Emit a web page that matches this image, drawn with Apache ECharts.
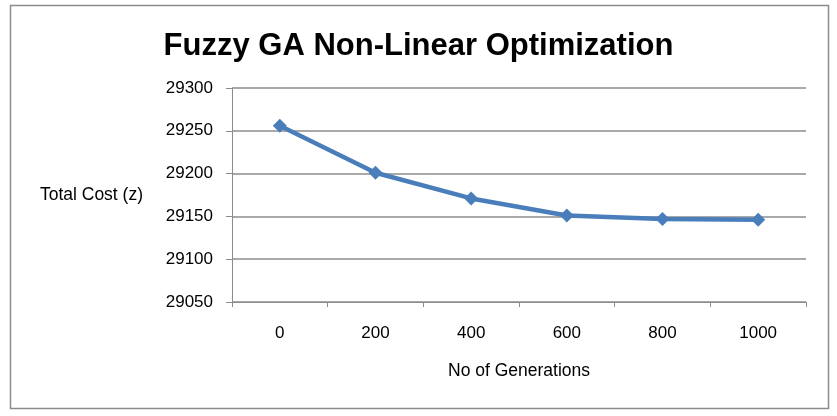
<!DOCTYPE html>
<html><head><meta charset="utf-8">
<script src="https://cdn.jsdelivr.net/npm/echarts@6/dist/echarts.min.js"></script>
<style>html,body{margin:0;padding:0;background:#fff}#c{width:837px;height:416px}</style>
</head><body><div id="c"></div>
<script>
const titleText = 'Fuzzy GA Non-Linear Optimization';
const generations = ['0', '200', '400', '600', '800', '1000'];
const totalCost = [29256, 29201, 29171, 29151, 29147, 29146];
const yMin = 29050, yMax = 29300, yStep = 50;
const xName = 'No of Generations';
const yName = 'Total Cost (z)';

const chart = echarts.init(document.getElementById('c'));
const fontFam = '"Liberation Sans", sans-serif';
chart.setOption({
  animation: false,
  title: {text: titleText, left: 'center', top: 26,
    textStyle: {fontFamily: fontFam, fontSize: 31, fontWeight: 'bold', color: '#000'}},
  graphic: [{type: 'rect', shape: {x: 10.5, y: 5.5, width: 818, height: 403},
    style: {fill: 'none', stroke: '#8c8c8c', lineWidth: 1.5}, z: -1}],
  grid: {left: 232, right: 31, top: 88, bottom: 114},
  xAxis: {type: 'category', data: generations, boundaryGap: true,
    name: xName, nameLocation: 'middle', nameGap: 60,
    nameTextStyle: {fontFamily: fontFam, fontSize: 17.5, color: '#000'},
    axisLine: {lineStyle: {color: '#8c8c8c', width: 1}},
    axisTick: {show: true, length: 5, lineStyle: {color: '#8c8c8c'}},
    axisLabel: {fontFamily: fontFam, fontSize: 17, color: '#000', margin: 23}},
  yAxis: {type: 'value', min: yMin, max: yMax, interval: yStep,
    name: yName, nameLocation: 'middle', nameRotate: 0, nameGap: 89,
    nameTextStyle: {fontFamily: fontFam, fontSize: 17.5, color: '#000'},
    axisLine: {show: true, lineStyle: {color: '#8c8c8c', width: 1}},
    axisTick: {show: true, length: 6, lineStyle: {color: '#8c8c8c'}},
    axisLabel: {fontFamily: fontFam, fontSize: 17, color: '#000', margin: 19,
      formatter: v => String(v)},
    splitLine: {lineStyle: {color: '#8c8c8c', width: 1.5}}},
  series: [{type: 'line', data: totalCost, symbol: 'diamond', symbolSize: 14,
    lineStyle: {color: '#4a7ebb', width: 4.5},
    itemStyle: {color: '#4a7ebb'}}]
});
</script></body></html>
